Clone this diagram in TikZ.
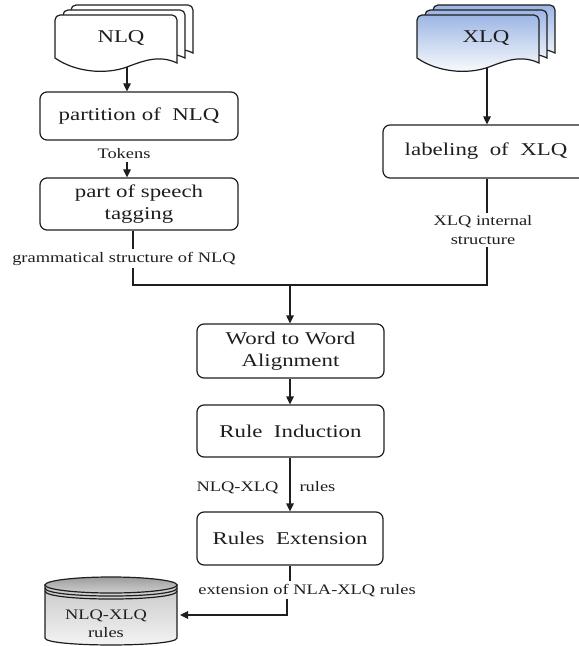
\documentclass[tikz,border=0pt]{standalone}
\usepackage{fontspec}
\setmainfont{Liberation Serif}[FakeStretch=1.27]
\usetikzlibrary{arrows.meta}

\definecolor{ink}{HTML}{1E1E1E}
\definecolor{xlqtop}{RGB}{156,182,228}
\definecolor{cyltop}{HTML}{B9B9B9}
\definecolor{cylbody}{HTML}{C9C9C9}

% a stack of three pages with a wavy lower edge; #1 = top-left corner, #2 = path options
\newcommand\DocStack[2]{%
  \foreach \d in {16,8,0}{%
    \path[#2, shift={(#1)}, shift={(\d,-0.625*\d)}]
      (0,43) [rounded corners=5bp] -- (0,0) -- (122,0) [sharp corners] -- (122,48)
      .. controls (105,40) and (90,45) .. (72,52)
      .. controls (50,60) and (20,57) .. (0,43) -- cycle;
  }%
}

\tikzset{
  bigfont/.style={font=\fontsize{18bp}{22bp}\selectfont},
  smallfont/.style={font=\fontsize{14.5bp}{18.5bp}\selectfont},
  stepbox/.style={draw, rounded corners=7bp, align=center, bigfont, inner sep=2bp},
  lbl/.style={smallfont, align=center, inner sep=2bp},
  arr/.style={-{Triangle[length=8bp,width=7.5bp]}},
}

\begin{document}
\begin{tikzpicture}[x=1bp, y=-1bp, line width=1.2bp, color=ink]
\useasboundingbox (0,0) rectangle (579,646);

% source documents
\DocStack{55,15}{draw, fill=white}
\DocStack{417,15}{draw, top color=xlqtop, bottom color=white}
\node[bigfont] (nlq) at (121,38) {NLQ};
\node[bigfont] (xlq) at (486,38) {XLQ};
\coordinate (nlqbot) at (127,67);
\coordinate (xlqbot) at (487,67);

% processing steps
\node[stepbox, minimum width=198bp, minimum height=48bp] (part) at (139,116) {partition of~ NLQ};
\node[stepbox, minimum width=198bp, minimum height=52bp] (pos) at (139,204) {part of speech\\tagging};
\node[stepbox, minimum width=206bp, minimum height=53bp] (lab) at (486,151.5) {labeling~ of~ XLQ};
\node[stepbox, minimum width=187bp, minimum height=54bp] (word) at (290.5,351) {Word to Word\\Alignment};
\node[stepbox, minimum width=187bp, minimum height=52bp] (rind) at (290.5,431) {Rule~ Induction};
\node[stepbox, minimum width=186bp, minimum height=53bp] (rex) at (290,538.5) {Rules~ Extension};

% connector labels
\node[lbl, anchor=base] (tok) at (124,159) {Tokens};
\node[lbl, anchor=base] (gram) at (124,262) {grammatical structure of NLQ};
\node[lbl] (xint) at (483,230) {XLQ internal\\structure};
\node[lbl, anchor=base east] (nx1) at (281,491) {NLQ-XLQ};
\node[lbl, anchor=base west] (nx2) at (297,491) {rules};
\node[lbl, anchor=base] (ext) at (307,594) {extension of NLA-XLQ rules};

% rule store
\path[draw, top color=cylbody, bottom color=white!96!black]
  (45,585) -- (45,638) .. controls (45,647.3) and (177,647.3) .. (177,638) -- (177,585) -- cycle;
\path[draw, top color=cyltop!85!black, bottom color=cyltop!70!white] (111,585) ellipse [x radius=66, y radius=8];
\draw (45,588) .. controls (45,598.7) and (177,598.7) .. (177,588);
\draw (45,591) .. controls (45,601.7) and (177,601.7) .. (177,591);
\node[lbl, smallfont] (store) at (106,624) {NLQ-XLQ\\rules};
\coordinate (storeE) at (180,615);

% connectors
\draw[arr] (nlqbot) -- (nlqbot |- part.north);
\draw[arr] (tok.south -| nlqbot) -- (nlqbot |- pos.north);
\draw[arr] (xlqbot) -- (xlqbot |- lab.north);

\coordinate (jl) at (133,285);
\coordinate (jr) at (487,285);
\coordinate (jm) at (290,285);
\draw (pos.south -| jl) -- (gram.north -| jl);
\draw (gram.south -| jl) -- (jl) -- (jr) -- (xint.south -| jr);
\draw (lab.south -| jr) -- (xint.north -| jr);
\draw[arr] (jm) -- (jm |- word.north);

\draw[arr] (word.south -| jm) -- (jm |- rind.north);
\draw[arr] (rind.south -| jm) -- (jm |- rex.north);
\draw (rex.south -| jm) -- (jm |- ext.north);
\coordinate (eb) at (287,615);
\draw[arr] (ext.south -| eb) -- (eb) -- (storeE);
\end{tikzpicture}
\end{document}
